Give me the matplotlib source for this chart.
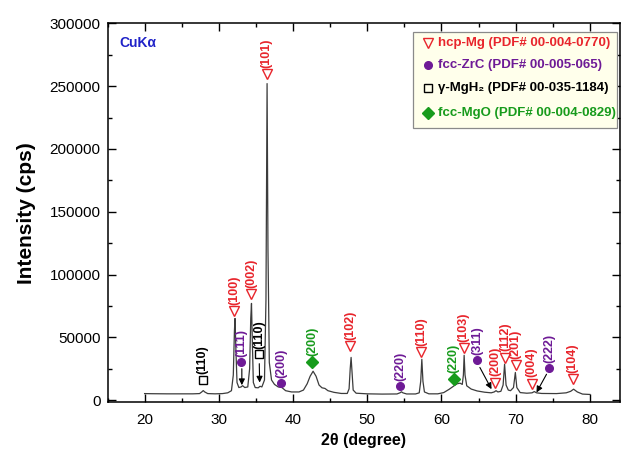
import matplotlib
matplotlib.use("Agg")
import matplotlib.pyplot as plt
from matplotlib.ticker import MultipleLocator
from matplotlib.patches import Rectangle

plt.rcParams['font.family'] = ['Liberation Sans', 'DejaVu Sans']

# XRD pattern (2theta in degrees, intensity in cps)
two_theta = [20.0, 21.0, 23.0, 25.0, 26.5, 27.4, 27.7, 27.9, 28.1, 28.5, 29.5, 30.5,
             31.2, 31.7, 31.95, 32.1, 32.18, 32.3, 32.45, 32.7, 33.0, 33.2, 33.5, 33.9,
             34.15, 34.3, 34.4, 34.5, 34.65, 34.9, 35.3, 35.55, 35.8, 36.15, 36.35, 36.5,
             36.62, 36.8, 37.1, 37.5, 38.0, 38.5, 39.0, 39.8, 40.8, 41.4, 41.9, 42.3,
             42.7, 43.1, 43.5, 43.9, 44.3, 44.7, 45.5, 46.5, 47.3, 47.55, 47.7, 47.82,
             47.95, 48.1, 48.5, 50.0, 52.0, 54.0, 54.4, 54.6, 54.8, 55.3, 56.5, 57.0,
             57.2, 57.35, 57.5, 57.7, 58.3, 59.5, 60.3, 61.0, 61.6, 62.1, 62.5, 62.8,
             62.95, 63.05, 63.17, 63.4, 64.0, 64.8, 65.8, 66.7, 67.1, 67.35, 67.6, 68.0,
             68.3, 68.5, 68.7, 69.0, 69.3, 69.7, 69.95, 70.15, 70.6, 71.5, 72.2, 72.5,
             72.8, 73.5, 75.5, 76.8, 77.4, 77.8, 78.3, 79.0, 80.0]
intensity = [5200, 5100, 5000, 5000, 5000, 5200, 6500, 7600, 6500, 5200, 5000, 5200,
             5800, 7500, 20000, 55000, 65000, 40000, 14000, 10000, 10500, 11500, 10000, 10500,
             25000, 65000, 77000, 50000, 14000, 10000, 9800, 11000, 10500, 16000, 80000, 252000,
             120000, 30000, 16000, 12500, 10500, 10000, 7500, 6500, 6500, 8000, 13000, 19000,
             23000, 19000, 12000, 9800, 9300, 7500, 6200, 5300, 5300, 9000, 25000, 34000,
             22000, 8000, 5500, 5000, 4800, 4900, 5800, 6600, 5800, 4900, 4900, 5800,
             15000, 32500, 15000, 6500, 5000, 5000, 6000, 8500, 11000, 13000, 13500, 12500,
             20000, 35700, 20000, 11400, 8800, 7300, 6300, 5800, 6500, 7500, 6500, 7000,
             12000, 28600, 12000, 8000, 7500, 10000, 22000, 10000, 6000, 5500, 5800, 6800,
             5800, 5300, 5200, 5800, 7000, 8700, 6500, 4800, 4500]

# Phase reflections: label position (2theta, intensity) and Miller indices
mg_pos = [32.1, 34.4, 36.45, 47.73, 57.3, 63.0, 67.2, 68.55, 70.0, 72.14, 77.67]
mg_y = [71000, 84500, 259600, 43100, 38400, 41300, 14000, 33900, 27800, 13200, 16700]
mg_hkl = ['(100)', '(002)', '(101)', '(102)', '(110)', '(103)', '(200)', '(112)',
          '(201)', '(004)', '(104)']

zrc_pos = [33.05, 38.43, 54.4, 64.85, 74.47]
zrc_y = [30400, 14000, 11400, 31700, 25400]
zrc_hkl = ['(111)', '(200)', '(220)', '(311)', '(222)']

mgh_pos = [27.83, 35.4]
mgh_y = [16000, 36500]
mgh_hkl = ['(110)', '(110)']

mgo_pos = [42.56, 61.66]
mgo_y = [30400, 16700]
mgo_hkl = ['(200)', '(220)']

# Pointer arrows: (start 2theta, start I) -> (tip 2theta, tip I)
arrow_from = [(33.1, 25000), (35.45, 29000), (65.17, 26000), (74.15, 20600)]
arrow_to = [(33.1, 11900), (35.5, 14000), (66.74, 8700), (72.8, 6100)]

legend_labels = ['hcp-Mg (PDF# 00-004-0770)', 'fcc-ZrC (PDF# 00-005-065)',
                 'γ-MgH₂ (PDF# 00-035-1184)', 'fcc-MgO (PDF# 00-004-0829)']

RED = '#e8252c'
PURPLE = '#6e1a96'
BLACK = '#000000'
GREEN = '#179b1c'

fig = plt.figure(figsize=(6.22, 4.5), dpi=100)
ax = fig.add_axes([107.5 / 622, (450 - 402) / 450, (620 - 107.5) / 622, (402 - 23.3) / 450])

ax.plot(two_theta, intensity, color='#3c3c3c', lw=0.9, zorder=2)

ax.set_xlim(15, 84.05)
ax.set_ylim(-1500, 300000)
ax.xaxis.set_major_locator(MultipleLocator(10))
ax.xaxis.set_minor_locator(MultipleLocator(5))
ax.yaxis.set_major_locator(MultipleLocator(50000))
ax.yaxis.set_minor_locator(MultipleLocator(25000))
ax.ticklabel_format(style='plain', axis='y', useOffset=False)
ax.tick_params(which='both', direction='in', top=True, right=True, width=1.0)
ax.tick_params(which='major', length=5.5, labelsize=11)
ax.tick_params(which='minor', length=3)
ax.tick_params(axis='x', which='major', pad=8)
ax.tick_params(axis='y', which='major', pad=5)
for s in ax.spines.values():
    s.set_linewidth(1.1)

ax.set_xlabel('2θ (degree)', fontsize=11.5, fontweight='bold', labelpad=4)
ax.set_ylabel('Intensity (cps)', fontsize=15, fontweight='bold', labelpad=10)


def mark(xs, ys, labels, color, marker, msize, filled, offset):
    for x, y, lab in zip(xs, ys, labels):
        ax.plot([x], [y], marker=marker, ms=msize, mec=color, mew=1.0,
                mfc=color if filled else 'none', ls='none', zorder=4)
        ax.annotate(lab, (x, y), xytext=(0, offset), textcoords='offset points',
                    rotation=90, ha='center', va='bottom', color=color,
                    fontsize=9, fontweight='bold', zorder=4)


mark(mg_pos, mg_y, mg_hkl, RED, 'v', 7, False, 4.5)
mark(zrc_pos, zrc_y, zrc_hkl, PURPLE, 'o', 5.5, True, 3.5)
mark(mgh_pos, mgh_y, mgh_hkl, BLACK, 's', 6, False, 4)
mark(mgo_pos, mgo_y, mgo_hkl, GREEN, 'D', 6, True, 4.5)

for (x0, y0), (x1, y1) in zip(arrow_from, arrow_to):
    ax.annotate('', xy=(x1, y1), xytext=(x0, y0),
                arrowprops=dict(arrowstyle='-|>', color='black', lw=0.8,
                                mutation_scale=9, shrinkA=0, shrinkB=0), zorder=3)

ax.text(0.024, 0.947, 'CuKα', transform=ax.transAxes, color='#1f22c8',
        fontsize=10, fontweight='bold', ha='left', va='center')

# Phase key box
ax.add_patch(Rectangle((0.596, 0.7235), 0.399, 0.2545, transform=ax.transAxes,
                       facecolor='#ffffeb', edgecolor='#8a8a8a', lw=0.9, zorder=5))
key_y = [0.949, 0.890, 0.828, 0.762]
key_style = [(RED, 'v', 7, False), (PURPLE, 'o', 5.5, True),
             (BLACK, 's', 6, False), (GREEN, 'D', 6, True)]
for yk, lab, (col, mk, ms, fill) in zip(key_y, legend_labels, key_style):
    ax.plot([0.625], [yk], marker=mk, ms=ms, mec=col, mew=1.0,
            mfc=col if fill else 'none', transform=ax.transAxes, zorder=6,
            clip_on=False)
    ax.text(0.645, yk, lab, transform=ax.transAxes, color=col, fontsize=9.5,
            fontweight='bold', ha='left', va='center', zorder=6)

fig.savefig('out.png', dpi=100)
